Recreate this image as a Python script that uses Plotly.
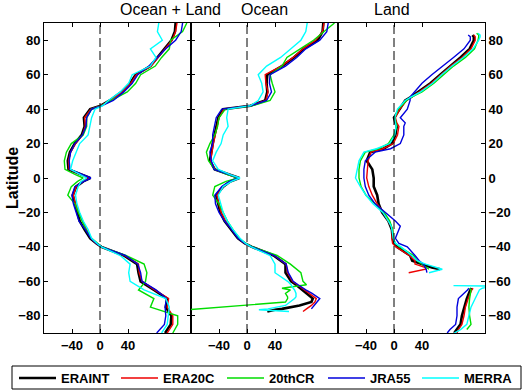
import plotly.graph_objects as go

N = None

# ---------------- Ocean + Land ----------------
lat_ol = [90, 85, 80, 75, 70, 65, 60, 55, 50, 45,
          42, 40, 35, 30, 25, 20, 15, 10, 5, 2,
          0, -2, -5, -10, -15, -20, -25, -30, -35, -38,
          -40, -45, -50, -55, -60, -65, -70, -75, -80, -85,
          -90]
ol_eraint = [108, 107, 102, 92, 83, 72, 51, 43, 31, 14,
             1, -14, -23, -22, -26, -36, -43, -46, -45, -27,
             -14, -24, -34, -39, -36, -33, -29, -22, -14, -5,
             2, 34, 53, 55, 58, 77, 96, 94, 102, 101,
             93]
ol_era20c = [110, 108, 103, 93, 84, 73, 52, 44, 32, 15,
             1, -13, -22, -21, -25, -35, -42, -45, -44, -28,
             -15, -25, -34, -38, -35, -30, -25, -19, -13, -5,
             2, 35, 55, 56, 60, 78, 98, 96, 104, 104,
             96]
ol_20thcr = [124, 118, 101, 99, 88, 79, 58, 51, 39, 17,
             2, -12, -19, -19, -24, -41, -48, -51, -50, -35,
             -24, -32, -41, -46, -36, -31, -26, -20, -12, -4,
             2, 37, 63, 67, 65, 55, 77, 72, 111, 111,
             104]
ol_jra55 = [118, 116, 108, 94, 82, 70, 54, 46, 34, 19,
            3, -12, -19, -20, -25, -36, -42, -44, -43, -25,
            -13, -23, -36, -40, -38, -34, -30, -21, -13, -5,
            2, 36, 54, 58, 60, 80, 95, 93, 94, 92,
            81]
ol_merra = [84, 82, 89, 72, 80, 72, 46, 41, 29, 12,
            4, -7, -12, -14, -17, -29, -34, -39, -42, -28,
            -19, -27, -31, -35, -33, -29, -24, -17, -12, -4,
            2, 29, 43, 41, 43, 63, 94, 99, 98, 96,
            88]

# ---------------- Ocean ----------------
lat_oc = [90, 85, 80, 75, 70, 65, 60, 55, 50, 45,
          42, 40, 35, 30, 25, 20, 15, 10, 5, 2,
          0, -2, -5, -10, -15, -20, -25, -30, -35, -38,
          -40, -45, -50, -55, -60, -62, -64, -65, -67, -69,
          -70, -72, -74, -76, -76.5, -77.5]
oc_eraint = [109, 108, 101, 81, 67, 50, 29, 28, 29, 26,
             5, -34, -41, -44, -46, -49, -51, -53, -46, -25,
             -11, -24, -34, -44, -41, -38, -32, -22, -13, -3,
             7, 38, 55, 55, 63, 70, 76, 79, 86, 92,
             94, 92, 75, 50, 40, 29]
oc_era20c = [110, 108, 98, 80, 66, 49, 26, 27, 30, 27,
             5, -33, -40, -43, -45, -48, -50, -52, -46, -26,
             -11, -24, -34, -43, -40, -37, -31, -22, -12, -3,
             7, 39, 56, 58, 65, 72, 79, 82, 90, 97,
             99, 97, 92, 85, 83, 80]
oc_20thcr = [125, 110, 95, 76, 57, 50, 33, 36, 40, 33,
             8, -31, -40, -42, -46, -53, -58, -55, -46, -28,
             -12, -30, -46, -49, -40, -34, -28, -20, -11, -2,
             8, 43, 62, 77, 80, 85, 50, 62, 55, 58,
             58, 55, -5, -65, -85, N]
oc_jra55 = [116, 114, 104, 84, 71, 55, 33, 32, 35, 28,
            6, -36, -44, -46, -49, -49, -53, -51, -47, -25,
            -11, -25, -36, -46, -45, -40, -32, -22, -13, -3,
            7, 39, 56, 59, 66, 73, 80, 84, 93, 101,
            104, 100, 96, 92, N, N]
oc_merra = [86, 84, 77, 62, 48, 28, 16, 21, 23, 16,
            5, -27, -29, -27, -34, -37, -44, -49, -41, -24,
            -10, -22, -34, -41, -38, -34, -28, -20, -10, -2,
            6, 33, 40, 40, 58, 63, 66, 68, 70, 70,
            68, 62, 55, 30, 17, 60]

# ---------------- Land ----------------
lat_ld = [84, 83, 82, 80, 75, 70, 65, 60, 55, 50,
          47, 45, 40, 35, 32, 30, 25, 20, 17, 15,
          10, 5, 0, -5, -10, -15, -20, -25, -28, -30,
          -35, -38, -40, -45, -48, -50, -52, -53, -55, -58,
          -62.5, -62.8, -64, -65, -70, -75, -80, -85, -88, -90]
ld_eraint = [N, 112, 114, 114, 108, 95, 80, 66, 52, 35,
             24, 16, 8, 0, 2, 4, 2, -3, -15, -34,
             -39, -31, -29, -29, -24, -22, -17, -8, -5, -3,
             -2, 0, 4, 23, 26, 40, 54, 66, N, N,
             N, N, 111, 109, 104, 100, 97, 95, 90, 86]
ld_era20c = [N, 114, 116, 116, 110, 97, 81, 67, 53, 36,
             24, 18, 8, 2, 4, 7, 5, -1, -16, -33,
             -37, -38, -39, -36, -31, -24, -15, -8, -4, -2,
             -3, -2, 3, 22, 30, 30, 45, 45, 21, N,
             N, N, 113, 111, 106, 102, 100, 97, 92, 90]
ld_20thcr = [118, 121, 121, 120, 115, 102, 85, 71, 57, 40,
             25, 18, 6, 1, 3, 4, 0, -8, -22, -41,
             -48, -50, -50, -47, -40, -27, -14, -6, -3, -2,
             -1, 2, 8, 28, 33, 40, 48, 50, N, N,
             N, N, 108, 110, 108, 107, 108, 110, 104, N]
ld_jra55 = [N, 106, 109, 109, 100, 85, 69, 54, 40, 30,
            23, 23, 19, 9, 16, 14, 14, 9, -5, -27,
            -41, -43, -43, -41, -36, -27, -12, 2, 9, 7,
            2, 7, 19, 30, 36, 42, 45, 46, 47, N,
            N, N, 107, 105, 92, 90, 90, 88, 80, 76]
ld_merra = [120, 123, 123, 121, 113, 99, 83, 68, 55, 38,
            24, 16, 5, 1, 2, 3, 1, -6, -25, -43,
            -50, -53, -55, -48, -40, -30, -16, -8, -4, -3,
            -1, 2, 10, 25, 33, 45, 59, 69, 50, N,
            85, 140, 126, 122, 116, 110, 107, 104, 95, 86]

panel_titles = ["Ocean + Land", "Ocean", "Land"]
series_names = ["ERAINT", "ERA20C", "20thCR", "JRA55", "MERRA"]
x_tick_vals = [-40, 0, 40]
y_tick_vals = [-80, -60, -40, -20, 0, 20, 40, 60, 80]

panels = [
    (lat_ol, [ol_eraint, ol_era20c, ol_20thcr, ol_jra55, ol_merra]),
    (lat_oc, [oc_eraint, oc_era20c, oc_20thcr, oc_jra55, oc_merra]),
    (lat_ld, [ld_eraint, ld_era20c, ld_20thcr, ld_jra55, ld_merra]),
]

colors = ["#000000", "#ee0000", "#00dd00", "#0000dd", "#00ffff"]
widths = [2.6, 1.4, 1.4, 1.4, 1.4]
legend_widths = [50, 54, 49, 42, 50]
legend_ids = ["legend", "legend", "legend", "legend2", "legend2"]

FONT = "Liberation Sans, Arial, Helvetica, sans-serif"
W, H = 526, 392
ML, MR, MT, MB = 44, 41, 23, 59
PW, PH = W - ML - MR, H - MT - MB


def px_x(px):
    return (px - ML) / PW


def px_y(py):
    return (H - MB - py) / PH


fig = go.Figure()
for p, (lat, vals) in enumerate(panels):
    xa = "x" if p == 0 else f"x{p + 1}"
    ya = "y" if p == 0 else f"y{p + 1}"
    for i, v in enumerate(vals):
        fig.add_trace(go.Scatter(
            x=v, y=lat, mode="lines", xaxis=xa, yaxis=ya,
            name=series_names[i], legendgroup=series_names[i],
            legend=legend_ids[i],
            showlegend=(p == 0), legendwidth=legend_widths[i],
            line=dict(color=colors[i], width=widths[i]),
            connectgaps=False, hoverinfo="skip",
        ))

tickfont = dict(family=FONT, size=13, color="black", weight="bold")
legfont = dict(family=FONT, size=13, color="black", weight="bold")
layout = dict(
    width=W, height=H,
    margin=dict(l=ML, r=MR, t=MT, b=MB, autoexpand=False),
    paper_bgcolor="white", plot_bgcolor="white",
    font=dict(family=FONT, color="black"),
    showlegend=True,
    legend=dict(
        orientation="h", xref="paper", yref="paper",
        x=px_x(14), y=px_y(363), xanchor="left", yanchor="top",
        borderwidth=0, bgcolor="rgba(0,0,0,0)", font=legfont, itemwidth=37,
    ),
    legend2=dict(
        orientation="h", xref="paper", yref="paper",
        x=px_x(323), y=px_y(363), xanchor="left", yanchor="top",
        borderwidth=0, bgcolor="rgba(0,0,0,0)", font=legfont, itemwidth=37,
    ),
)
for p in range(3):
    sx = "" if p == 0 else str(p + 1)
    layout["xaxis" + sx] = dict(
        domain=[p / 3, (p + 1) / 3], range=[-80, 130], anchor="y" + sx,
        tickvals=x_tick_vals, ticks="inside", ticklen=4, tickcolor="black",
        showline=True, linecolor="black", linewidth=1, mirror="ticks",
        showgrid=False, zeroline=False, tickfont=tickfont,
    )
    layout["yaxis" + sx] = dict(
        domain=[0, 1], range=[-90, 90], anchor="x" + sx,
        tickvals=y_tick_vals, ticks="inside", ticklen=4, tickcolor="black",
        showline=True, linecolor="black", linewidth=1, mirror="ticks",
        showgrid=False, zeroline=False, tickfont=tickfont,
        showticklabels=(p != 1), side=("right" if p == 2 else "left"),
    )
fig.update_layout(**layout)

for p in range(3):
    sx = "" if p == 0 else str(p + 1)
    fig.add_shape(type="line", xref="x" + sx, yref="y" + sx,
                  x0=0, x1=0, y0=-90, y1=90,
                  line=dict(color="black", width=1, dash="9px,4px"))
    fig.add_annotation(text=panel_titles[p], xref="paper", yref="paper",
                       x=(p + 0.5) / 3, y=1, yanchor="bottom", yshift=3,
                       showarrow=False,
                       font=dict(family=FONT, size=16, color="black"))

# legend frame around both legend groups
fig.add_shape(type="rect", xref="paper", yref="paper",
              x0=px_x(12), x1=px_x(521), y0=px_y(389), y1=px_y(366),
              line=dict(color="black", width=1), fillcolor="rgba(0,0,0,0)",
              layer="above")

fig.add_annotation(text="Latitude", xref="paper", yref="paper",
                   x=0, y=0.5, xshift=-32, xanchor="center", yanchor="middle",
                   textangle=-90, showarrow=False,
                   font=dict(family=FONT, size=16, color="black", weight="bold"))

fig.write_html("out.html", config={"displayModeBar": False},
               post_script="document.body.style.margin='0px';")
